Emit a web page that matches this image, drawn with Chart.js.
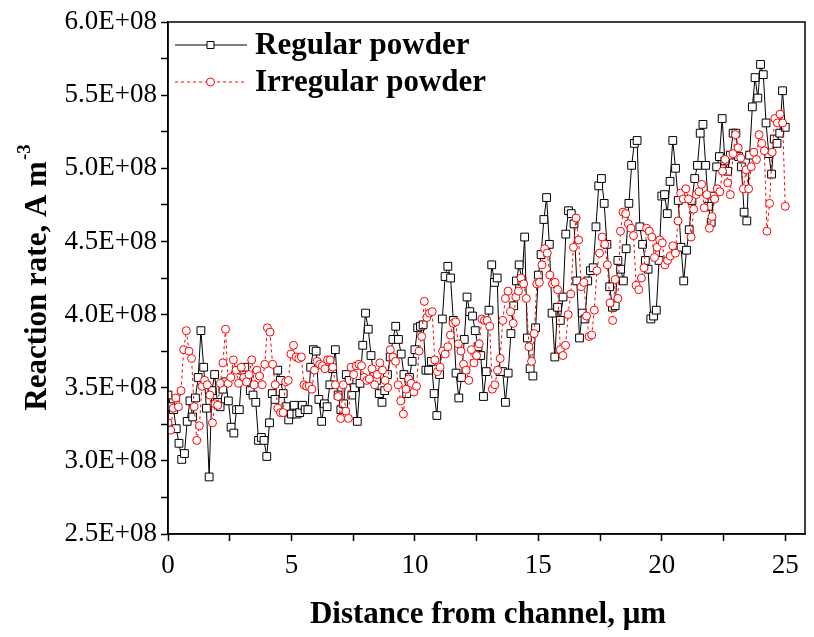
<!DOCTYPE html>
<html>
<head>
<meta charset="utf-8">
<title>Reaction rate vs distance from channel</title>
<script src="https://cdn.jsdelivr.net/npm/chart.js@4/dist/chart.umd.min.js"></script>
<style>
  html, body { margin: 0; padding: 0; background: #fff; }
  #chart { display: block; }
</style>
</head>
<body>
<canvas id="chart" width="814" height="637"></canvas>
<script>
// Values in units of 1E+08 A m^-3 left to right
const regularPowder = [
    3.45, 3.37, 3.35, 3.22, 3.12, 3.01, 3.05, 3.27, 3.41, 3.30,
    3.43, 3.57, 3.89, 3.64, 3.36, 2.89, 3.48, 3.59, 3.40, 3.37,
    3.49, 3.54, 3.41, 3.23, 3.19, 3.35, 3.35, 3.62, 3.64, 3.55,
    3.48, 3.45, 3.40, 3.14, 3.16, 3.14, 3.03, 3.26, 3.46, 3.42,
    3.62, 3.55, 3.46, 3.37, 3.28, 3.32, 3.38, 3.32, 3.33, 3.38,
    3.35, 3.35, 3.64, 3.76, 3.75, 3.42, 3.27, 3.39, 3.37, 3.52,
    3.63, 3.76, 3.45, 3.35, 3.39, 3.59, 3.55, 3.45, 3.50, 3.27,
    3.53, 3.79, 4.01, 3.90, 3.72, 3.59, 3.55, 3.46, 3.40, 3.48,
    3.59, 3.71, 3.83, 3.92, 3.83, 3.73, 3.59, 3.46, 3.57, 3.68,
    3.76, 3.91, 3.92, 3.93, 3.62, 3.62, 3.68, 3.46, 3.31, 3.59,
    3.97, 4.26, 4.33, 4.25, 3.96, 3.60, 3.43, 3.57, 3.83, 4.12,
    4.02, 3.99, 3.89, 3.78, 3.72, 3.44, 3.61, 4.03, 4.34, 4.22,
    4.25, 3.61, 3.61, 3.40, 3.60, 3.87, 4.06, 4.23, 4.34, 4.23,
    4.53, 3.84, 3.63, 3.58, 3.91, 4.27, 4.41, 4.65, 4.80, 4.48,
    4.01, 3.71, 4.05, 3.96, 4.12, 4.55, 4.71, 4.69, 4.62, 4.23,
    3.84, 4.01, 3.97, 4.23, 4.30, 4.32, 4.60, 4.88, 4.93, 4.76,
    4.48, 4.19, 4.05, 4.06, 4.37, 4.31, 4.23, 4.45, 4.76, 5.02,
    5.17, 5.19, 4.60, 4.48, 4.37, 4.31, 3.97, 3.99, 4.03, 4.37,
    4.81, 4.82, 4.69, 4.91, 5.19, 5.00, 4.78, 4.46, 4.23, 4.44,
    4.58, 4.78, 4.93, 5.02, 5.24, 5.30, 5.02, 4.74, 4.63, 4.81,
    5.01, 5.08, 5.34, 5.05, 4.98, 5.09, 5.24, 5.24, 5.08, 5.01,
    4.70, 4.64, 5.09, 5.42, 5.62, 5.48, 5.71, 5.64, 5.31, 5.10,
    4.96, 5.20, 5.17, 5.24, 5.53, 5.28
];

const irregularPowder = [
    3.26, 3.21, 3.36, 3.43, 3.37, 3.48, 3.76, 3.89, 3.75, 3.70,
    3.37, 3.14, 3.24, 3.51, 3.55, 3.52, 3.45, 3.26, 3.39, 3.38,
    3.53, 3.67, 3.90, 3.53, 3.57, 3.69, 3.62, 3.53, 3.64, 3.57,
    3.54, 3.59, 3.69, 3.52, 3.62, 3.58, 3.52, 3.66, 3.91, 3.88,
    3.66, 3.52, 3.36, 3.33, 3.33, 3.54, 3.55, 3.73, 3.79, 3.71,
    3.70, 3.71, 3.52, 3.51, 3.51, 3.49, 3.62, 3.68, 3.66, 3.65,
    3.63, 3.69, 3.69, 3.64, 3.52, 3.44, 3.29, 3.52, 3.34, 3.29,
    3.64, 3.59, 3.65, 3.66, 3.65, 3.57, 3.55, 3.56, 3.63, 3.52,
    3.59, 3.67, 3.62, 3.55, 3.50, 3.76, 3.71, 3.68, 3.52, 3.41,
    3.32, 3.49, 3.56, 3.53, 3.47, 3.51, 3.75, 3.85, 4.09, 3.98,
    4.01, 4.02, 3.69, 3.61, 3.64, 3.75, 3.73, 3.78, 3.86, 3.94,
    3.95, 3.80, 3.75, 3.66, 3.62, 3.55, 3.76, 3.67, 3.72, 3.80,
    3.97, 3.96, 3.96, 3.92, 3.49, 3.52, 3.62, 3.70, 3.96, 4.11,
    4.16, 4.02, 3.94, 4.12, 4.16, 4.25, 4.21, 4.11, 3.78, 3.68,
    3.87, 4.21, 4.22, 4.34, 4.45, 4.42, 4.27, 4.21, 4.22, 4.17,
    3.76, 3.72, 3.79, 4.00, 4.14, 4.46, 4.66, 4.51, 4.19, 4.22,
    3.99, 3.85, 3.86, 4.03, 4.30, 4.42, 4.53, 4.48, 4.34, 4.08,
    3.96, 4.24, 4.11, 4.57, 4.70, 4.69, 4.62, 4.59, 4.54, 4.20,
    4.17, 4.25, 4.32, 4.59, 4.57, 4.53, 4.39, 4.46, 4.51, 4.49,
    4.34, 4.37, 4.40, 4.47, 4.42, 4.64, 4.83, 4.79, 4.86, 4.79,
    4.53, 4.72, 4.82, 4.84, 4.89, 4.73, 4.82, 4.59, 4.67, 4.79,
    4.86, 4.84, 4.98, 5.06, 4.90, 4.82, 5.10, 5.23, 5.14, 5.07,
    4.86, 4.99, 4.86, 5.01, 5.11, 5.06, 5.23, 5.17, 5.12, 4.57,
    4.76, 5.11, 5.34, 5.31, 5.37, 5.31, 4.74
];

// both profiles are sampled evenly from 0 to 25 um
const distanceEnd = 25;
const xTickValues = [0, 2.5, 5, 7.5, 10, 12.5, 15, 17.5, 20, 22.5, 25];
const yTickValues = [2.5, 2.75, 3.0, 3.25, 3.5, 3.75, 4.0, 4.25, 4.5, 4.75, 5.0, 5.25, 5.5, 5.75, 6.0];

const xTitle = 'Distance from channel, \u03bcm';
const yTitle = 'Reaction rate, A m';
const yTitleSup = '-3';
const seriesNames = ['Regular powder', 'Irregular powder'];

function toPoints(values) {
    const step = distanceEnd / (values.length - 1);
    return values.map((v, i) => ({ x: i * step, y: v }));
}

const SERIF = '"Liberation Serif", "Times New Roman", serif';

// frame, axis titles and the legend, drawn straight on the canvas
const decorations = {
    id: 'decorations',
    afterDraw(chart) {
        const ctx = chart.ctx;
        const a = chart.chartArea;
        ctx.save();
        ctx.strokeStyle = '#000';
        ctx.lineWidth = 1.5;
        ctx.strokeRect(a.left, a.top, a.right - a.left, a.bottom - a.top);

        ctx.fillStyle = '#000';
        ctx.font = 'bold 31px ' + SERIF;
        ctx.textAlign = 'center';
        ctx.textBaseline = 'alphabetic';
        ctx.fillText(xTitle, 488, 623);

        // y title with superscript
        ctx.save();
        ctx.translate(46, 278);
        ctx.rotate(-Math.PI / 2);
        ctx.textAlign = 'left';
        ctx.font = 'bold 31px ' + SERIF;
        const w1 = ctx.measureText(yTitle).width;
        ctx.font = 'bold 19px ' + SERIF;
        const w2 = ctx.measureText(yTitleSup).width;
        const start = -(w1 + w2) / 2;
        ctx.font = 'bold 31px ' + SERIF;
        ctx.fillText(yTitle, start, 0);
        ctx.font = 'bold 19px ' + SERIF;
        ctx.fillText(yTitleSup, start + w1 + 1, -16);
        ctx.restore();

        // legend
        const rows = [
            { y: 45, color: '#000', dash: [], style: 'rect' },
            { y: 82, color: '#ff0000', dash: [3, 3], style: 'circle' }
        ];
        rows.forEach((r, i) => {
            ctx.setLineDash(r.dash);
            ctx.strokeStyle = r.color;
            ctx.lineWidth = 1;
            ctx.beginPath();
            ctx.moveTo(175, r.y);
            ctx.lineTo(247, r.y);
            ctx.stroke();
            ctx.setLineDash([]);
            ctx.fillStyle = '#fff';
            ctx.beginPath();
            if (r.style === 'rect') {
                ctx.rect(207, r.y - 3.5, 7, 7);
            } else {
                ctx.arc(210.5, r.y, 4, 0, Math.PI * 2);
            }
            ctx.fill();
            ctx.stroke();
            ctx.fillStyle = '#000';
            ctx.font = 'bold 31px ' + SERIF;
            ctx.textAlign = 'left';
            ctx.textBaseline = 'middle';
            ctx.fillText(seriesNames[i], 255, r.y + 1);
        });
        ctx.restore();
    }
};

new Chart(document.getElementById('chart'), {
    type: 'line',
    data: {
        datasets: [{
            label: seriesNames[0],
            data: toPoints(regularPowder),
            borderColor: '#000',
            borderWidth: 1,
            pointStyle: 'rect',
            pointRadius: 5.5,
            pointBorderWidth: 1,
            pointBorderColor: '#000',
            pointBackgroundColor: '#fff',
            tension: 0,
            order: 1
        }, {
            label: seriesNames[1],
            data: toPoints(irregularPowder),
            borderColor: '#ff0000',
            borderWidth: 1,
            borderDash: [3, 3],
            pointStyle: 'circle',
            pointRadius: 4,
            pointBorderWidth: 1,
            pointBorderColor: '#ff0000',
            pointBackgroundColor: '#fff',
            tension: 0,
            order: 0
        }]
    },
    options: {
        responsive: false,
        animation: false,
        layout: { padding: { top: 22, right: 9, left: 0, bottom: 0 } },
        plugins: {
            legend: { display: false },
            tooltip: { enabled: false }
        },
        scales: {
            x: {
                type: 'linear',
                min: 0,
                max: 25.8,
                afterBuildTicks: (axis) => {
                    axis.ticks = xTickValues.map(v => ({ value: v }));
                },
                afterFit: (axis) => { axis.height = 103; },
                grid: {
                    drawOnChartArea: false,
                    drawTicks: true,
                    tickLength: 7,
                    tickColor: '#000',
                    tickWidth: 1.5
                },
                border: { display: true, color: '#000', width: 1.5 },
                ticks: {
                    autoSkip: false,
                    maxRotation: 0,
                    padding: 9,
                    color: '#000',
                    font: { family: SERIF, size: 27 },
                    callback: (v) => (Math.abs(v / 5 - Math.round(v / 5)) < 1e-6 ? String(v) : '')
                }
            },
            y: {
                type: 'linear',
                min: 2.5,
                max: 6.0,
                afterBuildTicks: (axis) => {
                    axis.ticks = yTickValues.map(v => ({ value: v }));
                },
                afterFit: (axis) => { axis.width = 168; },
                grid: {
                    drawOnChartArea: false,
                    drawTicks: true,
                    tickLength: 7,
                    tickColor: '#000',
                    tickWidth: 1.5
                },
                border: { display: true, color: '#000', width: 1.5 },
                ticks: {
                    autoSkip: false,
                    padding: 4,
                    color: '#000',
                    font: { family: SERIF, size: 27 },
                    callback: (v) => (Math.abs(v * 2 - Math.round(v * 2)) < 1e-6 ? v.toFixed(1) + 'E+08' : '')
                }
            }
        }
    },
    plugins: [decorations]
});
</script>
</body>
</html>
